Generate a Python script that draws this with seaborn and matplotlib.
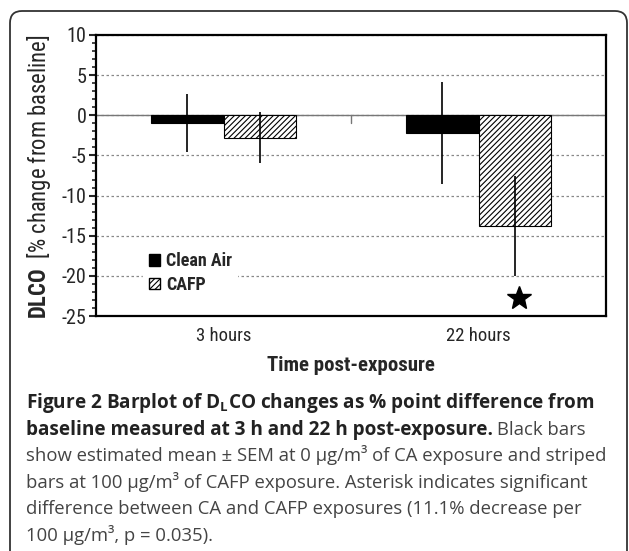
import matplotlib
matplotlib.use("Agg")
import pandas as pd
import matplotlib.pyplot as plt
import seaborn as sns
from matplotlib import font_manager
from matplotlib.patches import FancyBboxPatch, Patch
from matplotlib.ticker import MultipleLocator
from matplotlib.transforms import IdentityTransform

# values (% change from baseline)
times = ["3 hours", "22 hours"]
exposures = ["Clean Air", "CAFP"]
clean_air_mean = [-1.0, -2.2]
clean_air_sem = [3.6, 6.3]
cafp_mean = [-2.8, -13.8]
cafp_sem = [3.2, 6.2]
star_y = -22.8

df = pd.DataFrame({
    "Time": times * 2,
    "Exposure": ["Clean Air"] * 2 + ["CAFP"] * 2,
    "Change": clean_air_mean + cafp_mean,
})

sns.set_style("white")
plt.rcParams['font.family'] = ['Liberation Sans Narrow', 'DejaVu Sans Condensed',
                               'Roboto Condensed', 'DejaVu Sans']
plt.rcParams['font.stretch'] = 'condensed'
plt.rcParams['axes.unicode_minus'] = False
plt.rcParams['hatch.linewidth'] = 0.8

# find which narrow face got picked so mathtext bold can use it too
bold_path = font_manager.findfont(font_manager.FontProperties(
    family=plt.rcParams['font.family'], weight='bold', stretch='condensed'))
bold_name = font_manager.get_font(bold_path).family_name
plt.rcParams['mathtext.fontset'] = 'custom'
plt.rcParams['mathtext.bf'] = bold_name + ':bold'
plt.rcParams['mathtext.rm'] = 'Open Sans:bold'

W, H = 629, 551
fig = plt.figure(figsize=(W / 100, H / 100), dpi=100)
ax = fig.add_axes([96 / W, 1 - 316 / H, 510 / W, 281 / H])

sns.barplot(data=df, x="Time", y="Change", hue="Exposure", order=times,
            hue_order=exposures, palette={"Clean Air": "black", "CAFP": "white"},
            width=0.57, edgecolor="black", linewidth=0.8, errorbar=None,
            legend=False, ax=ax, zorder=2)

for bar in ax.containers[1]:
    bar.set_hatch('//////')

for cont, means, sems in zip(ax.containers, [clean_air_mean, cafp_mean],
                             [clean_air_sem, cafp_sem]):
    xs = [b.get_x() + b.get_width() / 2 for b in cont]
    ax.errorbar(xs, means, yerr=sems, fmt='none', ecolor='black',
                elinewidth=1.2, capsize=0, zorder=3)

# significance star over the 22 h CAFP bar
b = ax.containers[1][1]
ax.plot(b.get_x() + b.get_width() / 2 + 0.015, star_y, marker='*', color='black',
        markersize=18, zorder=4)

ax.set_ylim(-25, 10)
ax.set_xlim(-0.5, 1.5)
ax.set_yticks(range(-25, 11, 5))
ax.yaxis.set_minor_locator(MultipleLocator(1))
ax.set_axisbelow(True)
ax.grid(axis='y', which='major', linestyle=(0, (2, 2)), color='#888888', lw=0.9)
ax.axhline(0, color='#777777', lw=1.0, zorder=1.5)
ax.plot([0.5, 0.5], [0, -0.9], color='#777777', lw=1.0, zorder=1.5)

for sp in ax.spines.values():
    sp.set_linewidth(1.6)
    sp.set_color('black')

ax.tick_params(axis='y', which='major', direction='out', length=5, width=1.5,
               labelsize=14.5, pad=2, left=True)
ax.tick_params(axis='y', which='minor', direction='out', length=3, width=1.2, left=True)
ax.tick_params(axis='x', length=0, labelsize=13.5, pad=8)

ax.set_ylabel(r"$\mathbf{DLCO}$  [% change from baseline]", fontsize=16.3)
ax.yaxis.set_label_coords(-0.085, 0.495)
ax.set_xlabel("Time post-exposure", fontweight='bold', fontsize=15, labelpad=8)

handles = [Patch(facecolor='black', edgecolor='black'),
           Patch(facecolor='white', edgecolor='black', hatch='//////')]
leg = ax.legend(handles, exposures, loc='lower left', bbox_to_anchor=(0.075, 0.028),
                frameon=True, fancybox=False, prop={'weight': 'bold', 'size': 13},
                handlelength=0.6, handleheight=0.6, handletextpad=0.35,
                labelspacing=0.3, borderpad=0.3)
leg.get_frame().set_facecolor('white')
leg.get_frame().set_edgecolor('white')
leg.get_frame().set_alpha(1)

# rounded frame around figure
frame = FancyBboxPatch((10, -20), 617, H - 11 + 20,
                       boxstyle='round,pad=0,rounding_size=12',
                       transform=IdentityTransform(), facecolor='none',
                       edgecolor='#333333', lw=1.3)
fig.add_artist(frame)

# caption
cap_font = 'Open Sans'
bold_size = 13.65
norm_size = 13.35
bold_col = '#222222'
norm_col = '#444444'
renderer = fig.canvas.get_renderer()


def put(x_px, base_px, s, bold):
    t = fig.text(x_px / W, 1 - base_px / H, s, family=cap_font,
                 fontsize=bold_size if bold else norm_size,
                 fontweight='bold' if bold else 'normal', fontstretch='normal',
                 color=bold_col if bold else norm_col, va='baseline', ha='left')
    return t.get_window_extent(renderer).x1


x0 = 26
bases = [408, 434.6, 461.2, 487.8, 514.4, 541]
put(x0, bases[0], r"Figure 2 Barplot of D$_{\mathrm{L}}$CO changes as % point difference from", True)
xe = put(x0, bases[1], "baseline measured at 3 h and 22 h post-exposure.", True)
put(xe + 4, bases[1], "Black bars", False)
put(x0, bases[2], "show estimated mean \u00b1 SEM at 0 \u00b5g/m\u00b3 of CA exposure and striped", False)
put(x0, bases[3], "bars at 100 \u00b5g/m\u00b3 of CAFP exposure. Asterisk indicates significant", False)
put(x0, bases[4], "difference between CA and CAFP exposures (11.1% decrease per", False)
put(x0, bases[5], "100 \u00b5g/m\u00b3, p = 0.035).", False)

fig.savefig("out.png", dpi=100)
